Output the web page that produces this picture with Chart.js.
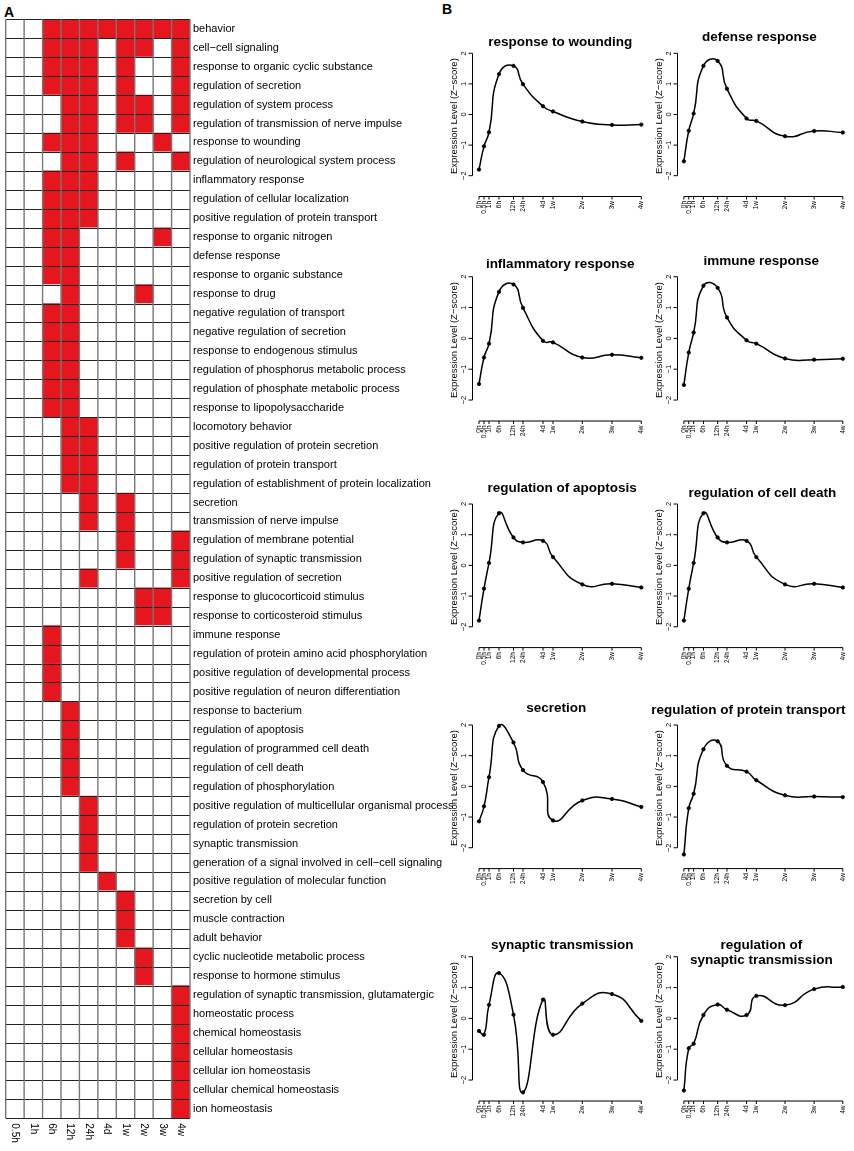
<!DOCTYPE html>
<html><head><meta charset="utf-8">
<script src="https://cdn.jsdelivr.net/npm/chart.js@4.4.0/dist/chart.umd.min.js"></script>
<style>
html,body{margin:0;padding:0;background:#fff;}
body{width:854px;height:1151px;position:relative;overflow:hidden;font-family:"Liberation Sans",Arial,sans-serif;}
canvas{position:absolute;}
.lbl{position:absolute;font:bold 14px "Liberation Sans",Arial,sans-serif;color:#000;line-height:16px;}
</style></head><body>
<div class="lbl" style="left:4px;top:4px">A</div>
<div class="lbl" style="left:442px;top:1px">B</div>
<canvas id="heat" width="460" height="1151" style="left:0;top:0;width:460px;height:1151px"></canvas>
<script>
// ---------------- Panel A data ----------------
const heatColumns = ['0.5h','1h','6h','12h','24h','4d','1w','2w','3w','4w'];
const rowNames = [
 'behavior','cell\u2212cell signaling','response to organic cyclic substance','regulation of secretion',
 'regulation of system process','regulation of transmission of nerve impulse','response to wounding',
 'regulation of neurological system process','inflammatory response','regulation of cellular localization',
 'positive regulation of protein transport','response to organic nitrogen','defense response',
 'response to organic substance','response to drug','negative regulation of transport',
 'negative regulation of secretion','response to endogenous stimulus','regulation of phosphorus metabolic process',
 'regulation of phosphate metabolic process','response to lipopolysaccharide','locomotory behavior',
 'positive regulation of protein secretion','regulation of protein transport',
 'regulation of establishment of protein localization','secretion','transmission of nerve impulse',
 'regulation of membrane potential','regulation of synaptic transmission','positive regulation of secretion',
 'response to glucocorticoid stimulus','response to corticosteroid stimulus','immune response',
 'regulation of protein amino acid phosphorylation','positive regulation of developmental process',
 'positive regulation of neuron differentiation','response to bacterium','regulation of apoptosis',
 'regulation of programmed cell death','regulation of cell death','regulation of phosphorylation',
 'positive regulation of multicellular organismal process','regulation of protein secretion',
 'synaptic transmission','generation of a signal involved in cell\u2212cell signaling',
 'positive regulation of molecular function','secretion by cell','muscle contraction','adult behavior',
 'cyclic nucleotide metabolic process','response to hormone stimulus',
 'regulation of synaptic transmission, glutamatergic','homeostatic process','chemical homeostasis',
 'cellular homeostasis','cellular ion homeostasis','cellular chemical homeostasis','ion homeostasis'
];
// indices of enriched time columns for each row (0=0.5h ... 9=4w)
const enrichedCols = [
 [2,3,4,5,6,7,8,9],[2,3,4,6,7,9],[2,3,4,6,9],[2,3,4,6,9],[3,4,6,7,9],[3,4,6,7,9],[2,3,4,8],[3,4,6,9],
 [2,3,4],[2,3,4],[2,3,4],[2,3,8],[2,3],[2,3],[3,7],[2,3],[2,3],[2,3],[2,3],[2,3],[2,3],
 [3,4],[3,4],[3,4],[3,4],[4,6],[4,6],[6,9],[6,9],[4,9],[7,8],[7,8],
 [2],[2],[2],[2],[3],[3],[3],[3],[3],[4],[4],[4],[4],[5],[6],[6],[6],[7],[7],
 [9],[9],[9],[9],[9],[9],[9]
];

// ---------------- Panel B data ----------------
const timeLabels = ['0h','0.5h','1h','6h','12h','24h','4d','1w','2w','3w','4w'];
const timePos = [0, 0.5, 1, 2, 3.45, 4.4, 6.4, 7.4, 10.33, 13.3, 16.23];
const yTicks = [-2, -1, 0, 1, 2];
const woundingVals = [-1.80,-1.04,-0.58,1.32,1.59,0.99,0.27,0.10,-0.23,-0.34,-0.33];
const defenseVals = [-1.53,-0.53,0.03,1.59,1.75,0.84,-0.13,-0.21,-0.71,-0.54,-0.59];
const inflammatoryVals = [-1.48,-0.62,-0.17,1.51,1.75,0.99,-0.08,-0.13,-0.62,-0.53,-0.63];
const immuneVals = [-1.51,-0.46,0.19,1.71,1.64,0.68,-0.06,-0.17,-0.65,-0.69,-0.66];
const apoptosisVals = [-1.80,-0.76,0.08,1.70,0.91,0.75,0.80,0.27,-0.62,-0.60,-0.72];
const cellDeathVals = [-1.80,-0.76,0.08,1.70,0.91,0.75,0.80,0.27,-0.62,-0.60,-0.72];
const secretionVals = [-1.14,-0.65,0.30,1.97,1.43,0.53,0.14,-1.11,-0.46,-0.41,-0.67];
const proteinTransportVals = [-2.22,-0.71,-0.24,1.21,1.47,0.67,0.48,0.20,-0.29,-0.33,-0.35];
const synapticVals = [-0.41,-0.53,0.44,1.47,0.12,-2.40,0.61,-0.53,0.48,0.79,-0.08];
const regSynapticVals = [-2.34,-0.97,-0.82,0.11,0.45,0.28,0.11,0.73,0.43,0.95,1.02];
const panelTitles = [
 'response to wounding','defense response','inflammatory response','immune response',
 'regulation of apoptosis','regulation of cell death','secretion','regulation of protein transport',
 'synaptic transmission',['regulation of','synaptic transmission']
];
const panelValues = [woundingVals,defenseVals,inflammatoryVals,immuneVals,apoptosisVals,cellDeathVals,
 secretionVals,proteinTransportVals,synapticVals,regSynapticVals];

// ---------------- layout (styling only) ----------------
const FONT = '"Liberation Sans", Arial, sans-serif';
const colGeom = [{left:440,width:214,padL:32.5,padR:6.2},{left:646,width:208,padL:31.5,padR:0.8}];
const rowGeom = [{top:47.8,bottom:196.5},{top:271.2,bottom:421},{top:498.5,bottom:647.6},{top:719.5,bottom:868.6},{top:951.2,bottom:1101}];
const titleY = [42,37,264,261,488,493,708,710,945,945];
const titleDx = [0,-4,0,-2,2,-1,-4,-15,2,-2];

// ---------------- Panel A chart ----------------
const heatRed = '#E5161E';
const heatGrid = {
  id:'heatGrid',
  afterDatasetsDraw(chart){
    const {ctx, chartArea:a, scales:{x}} = chart;
    const n = rowNames.length, rh = (a.bottom-a.top)/n;
    ctx.save();
    ctx.strokeStyle = '#222'; ctx.lineWidth = 1;
    for(let r=0;r<=n;r++){const py=Math.round(a.top+r*rh)+0.5; ctx.beginPath(); ctx.moveTo(a.left,py); ctx.lineTo(a.right,py); ctx.stroke();}
    ctx.strokeStyle = '#777'; ctx.lineWidth = 1.4;
    for(let c=0;c<=heatColumns.length;c++){const px=x.getPixelForValue(c); ctx.beginPath(); ctx.moveTo(px,a.top); ctx.lineTo(px,a.bottom); ctx.stroke();}
    ctx.fillStyle = '#000'; ctx.font = '10px '+FONT; ctx.textAlign='left'; ctx.textBaseline='middle';
    heatColumns.forEach((t,c)=>{ctx.save(); ctx.translate(x.getPixelForValue(c+0.5), a.bottom+5); ctx.rotate(Math.PI/2); ctx.fillText(t,0,0); ctx.restore();});
    ctx.restore();
  }
};
new Chart(document.getElementById('heat'), {
  type:'bar',
  data:{
    labels: rowNames,
    datasets: heatColumns.map((col,c)=>({
      label: col,
      data: rowNames.map(()=>[c,c+1]),
      backgroundColor: rowNames.map((_,r)=> enrichedCols[r].includes(c) ? heatRed : '#ffffff'),
      borderWidth:0, barPercentage:1, categoryPercentage:1, grouped:false
    }))
  },
  options:{
    indexAxis:'y', responsive:false, animation:false, devicePixelRatio:1,
    layout:{padding:{left:5.7,top:19.3,right:0,bottom:32.7}},
    plugins:{legend:{display:false},tooltip:{enabled:false}},
    scales:{
      x:{type:'linear',min:0,max:heatColumns.length,display:false},
      y:{type:'category',position:'right',grid:{display:false,drawTicks:false},border:{display:false},
         ticks:{autoSkip:false,padding:3,color:'#000',font:{family:FONT,size:11}},
         afterFit:(s)=>{s.width=270;}}
    }
  },
  plugins:[heatGrid]
});

// ---------------- Panel B charts ----------------
const rAxes = {
  id:'rAxes',
  afterDatasetsDraw(chart, args, o){
    const {ctx, chartArea:a, scales:{x,y}} = chart;
    ctx.save();
    ctx.strokeStyle='#000'; ctx.fillStyle='#000'; ctx.lineWidth=1;
    // y axis
    const L = a.left;
    ctx.beginPath(); ctx.moveTo(L, y.getPixelForValue(yTicks[0])); ctx.lineTo(L, y.getPixelForValue(yTicks[yTicks.length-1])); ctx.stroke();
    ctx.font = '7.5px '+FONT; ctx.textAlign='center'; ctx.textBaseline='middle';
    yTicks.forEach(v=>{const py=y.getPixelForValue(v); ctx.beginPath(); ctx.moveTo(L,py); ctx.lineTo(L-4,py); ctx.stroke();
      ctx.save(); ctx.translate(L-9,py); ctx.rotate(-Math.PI/2); ctx.fillText(String(v).replace('-','\u2212'),0,0); ctx.restore();});
    ctx.font = '9.5px '+FONT;
    ctx.save(); ctx.translate(L-18.5,(a.top+a.bottom)/2-6); ctx.rotate(-Math.PI/2); ctx.fillText('Expression Level (Z\u2212score)',0,0); ctx.restore();
    // x axis
    const B = a.bottom;
    ctx.beginPath(); ctx.moveTo(x.getPixelForValue(timePos[0]),B); ctx.lineTo(x.getPixelForValue(timePos[timePos.length-1]),B); ctx.stroke();
    ctx.font = '6.5px '+FONT; ctx.textAlign='right';
    timePos.forEach((t,i)=>{const px=x.getPixelForValue(t); ctx.beginPath(); ctx.moveTo(px,B); ctx.lineTo(px,B+3); ctx.stroke();
      ctx.save(); ctx.translate(px,B+4.5); ctx.rotate(-Math.PI/2); ctx.fillText(timeLabels[i],0,0); ctx.restore();});
    // title
    ctx.font = 'bold 13.5px '+FONT; ctx.textAlign='center'; ctx.textBaseline='middle';
    const lines = Array.isArray(o.text)? o.text : [o.text];
    lines.forEach((s,k)=>ctx.fillText(s,(a.left+a.right)/2+o.dx, o.ty + k*15));
    ctx.restore();
  }
};

panelValues.forEach((vals,i)=>{
  const col = i%2, row = Math.floor(i/2);
  const cg = colGeom[col], rg = rowGeom[row];
  const cTop = Math.round(rg.top-45);
  const h = Math.ceil(rg.bottom - cTop + 25);
  const cv = document.createElement('canvas');
  cv.width = cg.width; cv.height = h;
  cv.style.left = cg.left+'px'; cv.style.top = cTop+'px';
  cv.style.width = cg.width+'px'; cv.style.height = h+'px';
  document.body.appendChild(cv);
  new Chart(cv, {
    type:'line',
    data:{datasets:[{
      data: timePos.map((t,k)=>({x:t,y:vals[k]})),
      borderColor:'#000', borderWidth:1.5, tension:0.55, fill:false,
      pointStyle:'circle', pointRadius:1.7, pointBorderWidth:0.8, pointBorderColor:'#000', pointBackgroundColor:'#000'
    }]},
    options:{
      responsive:false, animation:false, devicePixelRatio:1,
      layout:{padding:{left:cg.padL,right:cg.padR,top:rg.top-cTop,bottom:h-(rg.bottom-cTop)}},
      plugins:{legend:{display:false},tooltip:{enabled:false},
        rAxes:{text:panelTitles[i], ty:titleY[i]-cTop, dx:titleDx[i]}},
      scales:{
        x:{type:'linear',min:-0.65,max:16.88,display:false},
        y:{type:'linear',min:-2.68,max:2.18,display:false}
      }
    },
    plugins:[rAxes]
  });
});
</script>
</body></html>
